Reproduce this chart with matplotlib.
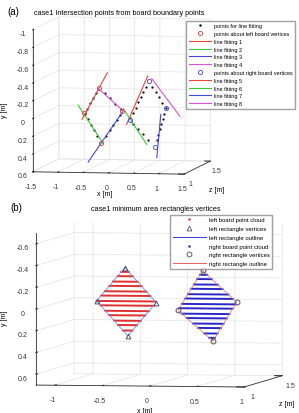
import numpy as np
import matplotlib
matplotlib.use('Agg')
import matplotlib.pyplot as plt
from matplotlib.lines import Line2D

plt.rcParams['font.family'] = ['Liberation Sans', 'DejaVu Sans']

# =========================
# DATA (a): vertices + fitted lines, x / y in metres, z depth
# =========================
left_vx = [-0.48, -0.18, 0.28, -0.14]
left_vy = [-0.07, -0.36, -0.10, 0.26]
right_vx = [0.42, 0.80, 1.14, 0.92]
right_vy = [0.00, -0.44, -0.14, 0.30]
board_z_a = [1.0, 1.0]

# fitted lines: (x0, y0) -> (x1, y1)
fit_x0 = [-0.52, -0.60, -0.40, -0.20, 0.36, 0.30, 1.04, 0.86]
fit_y0 = [0.00, -0.16, 0.48, -0.35, 0.05, -0.125, -0.07, -0.47]
fit_x1 = [-0.02, -0.10, 0.28, 0.30, 0.78, 0.76, 0.96, 1.42]
fit_y1 = [-0.53, 0.27, -0.09, -0.10, -0.50, 0.27, 0.42, -0.05]
fit_labels = ['line fitting %d' % i for i in range(1, 9)]
fit_colors = ['#e8463c', '#3cc83c', '#4646dc', '#dc50dc'] * 2

# scan line heights of the two boards (a)
scan_y_left_a = [-0.30, -0.24, -0.18, -0.12, -0.06, 0.0, 0.06, 0.12, 0.18]
scan_y_right_a = [-0.38, -0.32, -0.26, -0.20, -0.14, -0.08, -0.02, 0.04, 0.10, 0.16, 0.22]

# =========================
# DATA (b): minimum area rectangles
# =========================
rect_left_x = [-0.26, -0.56, -0.23, 0.07]
rect_left_y = [-0.39, -0.08, 0.24, -0.07]
rect_right_x = [0.56, 0.30, 0.67, 0.92]
rect_right_y = [-0.37, 0.00, 0.28, -0.08]
board_z_b = [1.0, 1.0]
scan_y_left_b = [-0.35, -0.31, -0.26, -0.22, -0.17, -0.13, -0.08, -0.04, 0.01, 0.05, 0.10, 0.14, 0.19]
scan_y_right_b = [-0.33, -0.29, -0.24, -0.20, -0.15, -0.11, -0.06, -0.02, 0.03, 0.07, 0.12, 0.16, 0.21, 0.25]


def scan_ends(vx, vy, ys):
    # left / right end of each horizontal scan line inside the quad
    n = len(vx)
    xs0, xs1 = [], []
    for y in ys:
        hits = []
        for k in range(n):
            xa, ya = vx[k], vy[k]
            xb, yb = vx[(k + 1) % n], vy[(k + 1) % n]
            if (ya - y) * (yb - y) <= 0 and ya != yb:
                hits.append(xa + (y - ya) * (xb - xa) / (yb - ya))
        xs0.append(min(hits))
        xs1.append(max(hits))
    return xs0, xs1


def style_3d(ax, xlim, ylim, zlim, xt, yt, zt, aspect, zoom, elev, azim):
    ax.set_proj_type('ortho')
    ax.set_xlim(*xlim)
    ax.set_ylim(*zlim)
    ax.set_zlim(ylim[1], ylim[0])
    ax.set_xticks(xt)
    ax.set_yticks(zt)
    ax.set_zticks(yt)
    ax.set_xticklabels([('%g' % v) for v in xt])
    ax.set_yticklabels([('%g' % v) for v in zt])
    ax.set_zticklabels([('%g' % v) for v in yt])
    ax.set_box_aspect(aspect, zoom=zoom)
    ax.view_init(elev=elev, azim=azim)
    ax.zaxis.set_ticks_position('lower')
    ax.zaxis.set_label_position('lower')
    ax.patch.set_visible(False)
    for axis in (ax.xaxis, ax.yaxis, ax.zaxis):
        axis.set_pane_color((1, 1, 1, 0))
        axis._axinfo['grid']['color'] = '#e2e2e2'
        axis._axinfo['grid']['linewidth'] = 0.5
        axis._axinfo['tick']['inward_factor'] = 0.0
        axis._axinfo['tick']['outward_factor'] = 0.45
        axis.line.set_color('#333333')
        axis.line.set_linewidth(0.6)
    ax.tick_params(labelsize=5, pad=-3, colors='#333333', width=0.5)
    ax.zaxis.set_tick_params(pad=-4)
    ax.yaxis.set_tick_params(pad=-5)


fig = plt.figure(figsize=(2.99, 4.14), dpi=100)

# =========================
# (a)
# =========================
S = 186.0
ax1 = fig.add_axes([119 / 299 - S / 598, 1 - 99 / 414 - S / 828, S / 299, S / 414], projection='3d')
z = board_z_a[0]
for vx, vy, ys in [(left_vx, left_vy, scan_y_left_a), (right_vx, right_vy, scan_y_right_a)]:
    x0, x1 = scan_ends(vx, vy, ys)
    ax1.plot(x0 + x1, [z] * (2 * len(ys)), ys + ys, '.', color='k', ms=1.2)
for i in range(8):
    ax1.plot([fit_x0[i], fit_x1[i]], [z, z], [fit_y0[i], fit_y1[i]],
             color=fit_colors[i], lw=0.8)
ax1.plot(left_vx, [z] * 4, left_vy, 'o', mfc='none', mec='#d04040', ms=3, mew=0.6)
ax1.plot(right_vx, [z] * 4, right_vy, 'o', mfc='none', mec='#4040d0', ms=3, mew=0.6)
style_3d(ax1, (-1.5, 1.5), (-1, 0.6), (1, 1.5),
         [-1.5, -1, -0.5, 0, 0.5, 1, 1.5], [-1, -0.8, -0.6, -0.4, -0.2, 0, 0.2, 0.4, 0.6],
         [1, 1.5], (152, 150, 141), 1.35, 5, -80)

h_a = [Line2D([], [], ls='', marker='.', color='k', ms=1.5),
       Line2D([], [], ls='', marker='o', mfc='none', mec='#d04040', ms=3, mew=0.6)]
h_a += [Line2D([], [], color=c, lw=0.8) for c in fit_colors[:4]]
h_a += [Line2D([], [], ls='', marker='o', mfc='none', mec='#4040d0', ms=3, mew=0.6)]
h_a += [Line2D([], [], color=c, lw=0.8) for c in fit_colors[4:]]
l_a = ['points for line fitting', 'points about left board vertices'] + fit_labels[:4] + \
      ['points about right board vertices'] + fit_labels[4:]
fig.legend(h_a, l_a, loc='upper right', bbox_to_anchor=(0.997, 0.954), fontsize=4,
           frameon=True, fancybox=False, edgecolor='#888888', handlelength=4.0,
           labelspacing=0.5, borderpad=0.45, handletextpad=0.6)
fig.text(0.025, 0.963, '(a)', fontsize=7)
fig.text(0.40, 0.963, 'case1 Intersection points from board boundary points', fontsize=5.2, ha='center')
fig.text(105 / 299, 1 - 194 / 414, 'x [m]', fontsize=5, ha='center', va='center')
fig.text(5 / 299, 1 - 110 / 414, 'y [m]', fontsize=5, ha='center', va='center', rotation=90)
fig.text(217 / 299, 1 - 190 / 414, 'z [m]', fontsize=5, ha='center', va='center')

# =========================
# (b)
# =========================
S = 195.0
ax2 = fig.add_axes([156.5 / 299 - S / 598, 1 - 308 / 414 - S / 828, S / 299, S / 414], projection='3d')
z = board_z_b[0]
for vx, vy, ys, c in [(rect_left_x, rect_left_y, scan_y_left_b, '#e03030'),
                      (rect_right_x, rect_right_y, scan_y_right_b, '#2828c8')]:
    x0, x1 = scan_ends(vx, vy, ys)
    for j in range(len(ys)):
        ax2.plot([x0[j], x1[j]], [z, z], [ys[j], ys[j]], color=c, lw=1.4)
ax2.plot(rect_left_x + rect_left_x[:1], [z] * 5, rect_left_y + rect_left_y[:1], color='#8080e0', lw=0.6)
ax2.plot(rect_right_x + rect_right_x[:1], [z] * 5, rect_right_y + rect_right_y[:1], color='#e08080', lw=0.6)
ax2.plot(rect_left_x, [z] * 4, rect_left_y, '^', mfc='none', mec='#505070', ms=3.5, mew=0.7)
ax2.plot(rect_right_x, [z] * 4, rect_right_y, 'o', mfc='none', mec='#505050', ms=3.5, mew=0.7)
style_3d(ax2, (-1.2, 1.0), (-0.7, 0.7), (1, 1.5),
         [-1, -0.5, 0, 0.5, 1], [-0.6, -0.4, -0.2, 0, 0.2, 0.4, 0.6],
         [1, 1.5], (211, 219, 152), 1.695, 3, -80)

h_b = [Line2D([], [], ls='', marker='.', color='#e03030', ms=1.5),
       Line2D([], [], ls='', marker='^', mfc='none', mec='#505070', ms=3.5, mew=0.6),
       Line2D([], [], color='#4646dc', lw=0.8),
       Line2D([], [], ls='', marker='.', color='#2828c8', ms=1.5),
       Line2D([], [], ls='', marker='o', mfc='none', mec='#505050', ms=3.5, mew=0.6),
       Line2D([], [], color='#e8463c', lw=0.6)]
l_b = ['left board point cloud', 'left rectangle vertices', 'left rectangle outline',
       'right board point cloud', 'right rectangle vertices', 'right rectangle outline']
fig.legend(h_b, l_b, loc='upper right', bbox_to_anchor=(0.92, 0.486), fontsize=4.3,
           frameon=True, fancybox=False, edgecolor='#888888', handlelength=5.5,
           labelspacing=0.6, borderpad=0.4, handletextpad=0.5)
fig.text(0.035, 0.49, '(b)', fontsize=7)
fig.text(0.52, 0.49, 'case1 minimum area rectangles vertices', fontsize=5.2, ha='center')
fig.text(145 / 299, 1 - 412 / 414, 'x [m]', fontsize=5, ha='center', va='center')
fig.text(4 / 299, 1 - 318 / 414, 'y [m]', fontsize=5, ha='center', va='center', rotation=90)
fig.text(287 / 299, 1 - 405 / 414, 'z [m]', fontsize=5, ha='center', va='center')

fig.savefig('out.png', dpi=100)
